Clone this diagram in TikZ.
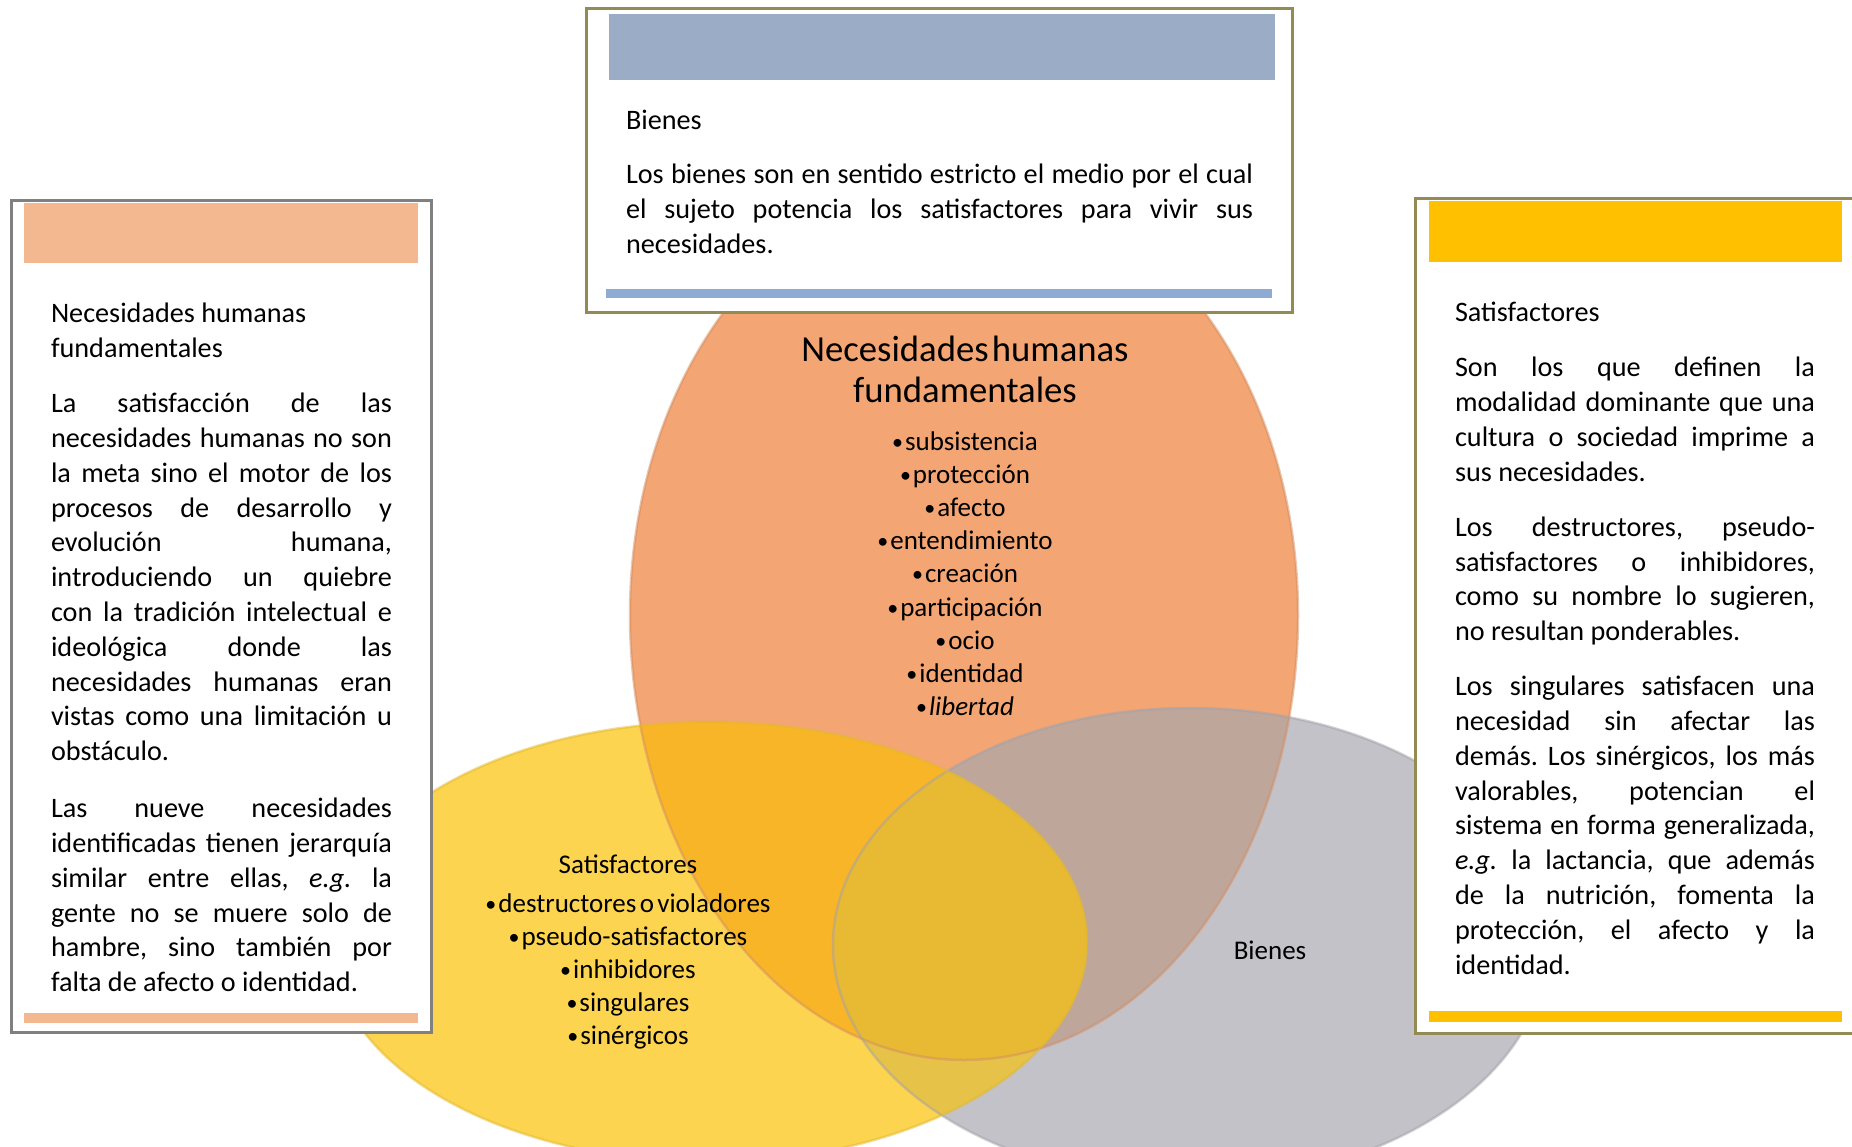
\documentclass[tikz,border=0pt]{standalone}
\usepackage{fontspec}
\setmainfont{Carlito}
\frenchspacing
\definecolor{cO}{HTML}{F3A573}
\definecolor{cY}{HTML}{FDD44F}
\definecolor{cG}{HTML}{C3C2C8}
\definecolor{cOY}{HTML}{F9B528}
\definecolor{cOG}{HTML}{BEA69B}
\definecolor{cGY}{HTML}{E6C348}
\definecolor{cOGY}{HTML}{E8BA33}
\definecolor{edO}{HTML}{D38E62}
\definecolor{edY}{HTML}{E2B82C}
\definecolor{edG}{HTML}{A2A1A8}
\definecolor{boxGray}{HTML}{808080}
\definecolor{boxOlive}{HTML}{948A54}
\definecolor{barPeach}{HTML}{F4B890}
\definecolor{barBlue}{HTML}{9BADC6}
\definecolor{barBlueB}{HTML}{8EABD4}
\definecolor{barGold}{HTML}{FFC000}
\newcommand\mybody{\fontsize{28.2}{34.8}\selectfont\hyphenpenalty=10000\exhyphenpenalty=10000\frenchspacing}
\newcommand\myvenn{\fontsize{27}{33.2}\selectfont}
\newcommand\bul{{\fontsize{22}{22}\selectfont\raisebox{1pt}{•}}\hspace{2pt}}
\def\myegg{(630,615) arc[start angle=180,end angle=0,x radius=334pt,y radius=436pt] arc[start angle=0,end angle=-180,x radius=334pt,y radius=445pt] -- cycle}
\def\myyell{(709,942) ellipse[x radius=378pt,y radius=220pt]}
\def\mygray{(1190,945) ellipse[x radius=357pt,y radius=237pt]}
\begin{document}
\begin{tikzpicture}[x=1pt,y=-1pt,
  bodytext/.style={inner sep=0pt, outer sep=0pt, anchor=north west, align=justify},
  venntext/.style={inner sep=0pt, outer sep=0pt, anchor=north, align=center, text width=460pt},
  boxframe/.style={fill=white, line width=3pt},
  vennedge/.style={line width=2.5pt, opacity=0.5}]
\useasboundingbox (0,0) rectangle (1852,1147);
\fill[white] (0,0) rectangle (1852,1147);
% ---- Venn diagram ----
\fill[cO] \myegg;
\fill[cG] \mygray;
\fill[cY] \myyell;
\begin{scope}
  \clip \myegg;
  \fill[cOG] \mygray;
  \fill[cOY] \myyell;
\end{scope}
\begin{scope}
  \clip \mygray;
  \fill[cGY] \myyell;
  \clip \myegg;
  \fill[cOGY] \myyell;
\end{scope}
\draw[vennedge, edO] \myegg;
\draw[vennedge, edG] \mygray;
\draw[vennedge, edY] \myyell;
% ---- Venn texts ----
\node[venntext] (ntitle) at (965,332) {\fontsize{36.7}{41}\selectfont\rule{0pt}{30pt}Necesidades humanas\\fundamentales\par};
\node[venntext] (nlist) at (965,425) {\myvenn\rule{0pt}{25pt}\bul subsistencia\\\bul protección\\\bul afecto\\\bul entendimiento\\\bul creación\\\bul participación\\\bul ocio\\\bul identidad\\\bul\textit{libertad}\par};
\node[inner sep=0pt, anchor=base] (stitle) at (628,873) {\myvenn Satisfactores};
\node[venntext] (slist) at (628,887) {\myvenn\rule{0pt}{25pt}\bul destructores o violadores\\\bul pseudo-satisfactores\\\bul inhibidores\\\bul singulares\\\bul sinérgicos\par};
\node[inner sep=0pt, anchor=base] (btext) at (1270,959) {\myvenn Bienes};
% ---- left box ----
\draw[boxframe, draw=boxGray] (11,201) rectangle (431,1032);
\fill[barPeach] (24,203) rectangle (418,263);
\fill[barPeach] (24,1013) rectangle (418,1023);
\node[bodytext, text width=341pt] (lefttext) at (51,298) {\mybody\rule{0pt}{25pt}Necesidades humanas\\fundamentales\par\vspace{20.2pt}
La satisfacción de las\linebreak necesidades humanas no son\linebreak la meta sino el motor de los\linebreak procesos de desarrollo y\linebreak evolución humana,\linebreak introduciendo un quiebre\linebreak con la tradición intelectual e\linebreak ideológica donde las\linebreak necesidades humanas eran\linebreak vistas como una limitación u\linebreak obstáculo.\par\vspace{22.2pt}
Las nueve necesidades\linebreak identificadas tienen jerarquía\linebreak similar entre ellas, \textit{e.g.} la\linebreak gente no se muere solo de\linebreak hambre, sino también por\linebreak falta de afecto o identidad.\par};
% ---- top box ----
\draw[boxframe, draw=boxOlive] (586,9) rectangle (1292,313);
\fill[barBlue] (609,14) rectangle (1275,80);
\fill[barBlueB] (606,289) rectangle (1272,298);
\node[bodytext, text width=627pt] (toptext) at (626,105) {\mybody\rule{0pt}{25pt}Bienes\par\vspace{19.2pt}
Los bienes son en sentido estricto el medio por el cual\linebreak el sujeto potencia los satisfactores para vivir sus\linebreak necesidades.\par};
% ---- right box ----
\draw[boxframe, draw=boxOlive] (1415,199) rectangle (1858,1033);
\fill[barGold] (1429,201) rectangle (1842,262);
\fill[barGold] (1429,1011) rectangle (1842,1022);
\node[bodytext, text width=360pt] (righttext) at (1455,297) {\mybody\rule{0pt}{25pt}Satisfactores\par\vspace{20.2pt}
Son los que definen la\linebreak modalidad dominante que una\linebreak cultura o sociedad imprime a\linebreak sus necesidades.\par\vspace{20.2pt}
Los destructores, pseudo-\linebreak satisfactores o inhibidores,\linebreak como su nombre lo sugieren,\linebreak no resultan ponderables.\par\vspace{20.2pt}
Los singulares satisfacen una\linebreak necesidad sin afectar las\linebreak demás. Los sinérgicos, los más\linebreak valorables, potencian el\linebreak sistema en forma generalizada,\linebreak \textit{e.g.} la lactancia, que además\linebreak de la nutrición, fomenta la\linebreak protección, el afecto y la\linebreak identidad.\par};
\end{tikzpicture}
\end{document}
